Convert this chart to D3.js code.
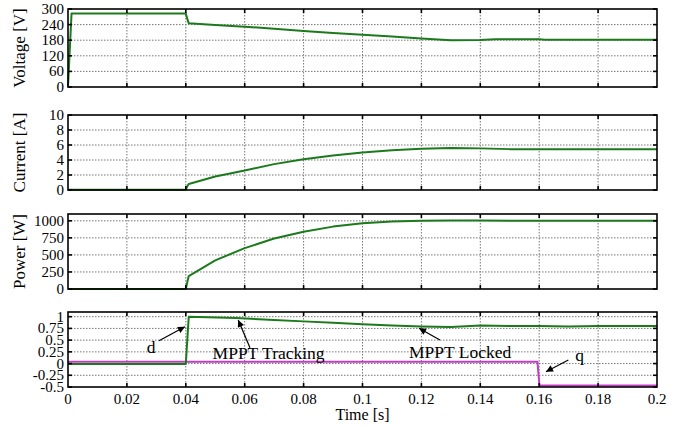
<!DOCTYPE html>
<html>
<head>
<meta charset="utf-8">
<style>
body { margin: 0; background: #fff; }
text { font-family: "Liberation Serif", "Times New Roman", serif; fill: #000; }
.grid { stroke: #777; stroke-width: 1; stroke-dasharray: 1.5,1.5; }
.frame { fill: none; stroke: #000; stroke-width: 1.6px; }
.tick { stroke: #000; stroke-width: 1.6px; }
.trace { fill: none; stroke-width: 2px; stroke-linejoin: round; }
</style>
</head>
<body>
<script src="https://cdn.jsdelivr.net/npm/d3@7"></script>
<script>

// time ticks
var timeTicks = [0, 0.02, 0.04, 0.06, 0.08, 0.1, 0.12, 0.14, 0.16, 0.18, 0.2];
var timeLabels = ["0", "0.02", "0.04", "0.06", "0.08", "0.1", "0.12", "0.14", "0.16", "0.18", "0.2"];

// voltage trace
var vTime = [0, 0.0012, 0.04, 0.0405, 0.041, 0.05, 0.06, 0.07, 0.08, 0.09, 0.1, 0.11, 0.12, 0.13, 0.14, 0.145, 0.16, 0.162, 0.18, 0.2];
var vVal  = [0, 283, 283, 262, 245, 238, 232, 224, 215, 208, 201, 194, 187, 180, 181, 184, 184, 182, 182, 182];

// current trace
var iTime = [0, 0.04, 0.0405, 0.041, 0.05, 0.06, 0.07, 0.08, 0.09, 0.1, 0.11, 0.12, 0.13, 0.14, 0.15, 0.16, 0.18, 0.2];
var iVal  = [0.05, 0.05, 0.5, 0.8, 1.8, 2.6, 3.45, 4.1, 4.6, 5.0, 5.3, 5.5, 5.6, 5.55, 5.45, 5.45, 5.45, 5.45];

// power trace
var pTime = [0, 0.04, 0.0405, 0.041, 0.05, 0.06, 0.07, 0.08, 0.09, 0.1, 0.11, 0.12, 0.13, 0.14, 0.15, 0.16, 0.18, 0.2];
var pVal  = [0, 0, 100, 190, 420, 600, 740, 840, 915, 965, 990, 1000, 1005, 1005, 1000, 1000, 1000, 1000];

// duty cycle d and signal q
var dTime = [0, 0.04, 0.0405, 0.041, 0.057, 0.07, 0.08, 0.09, 0.1, 0.11, 0.12, 0.13, 0.14, 0.15, 0.16, 0.17, 0.18, 0.19, 0.2];
var dVal  = [-0.01, -0.01, 0.5, 1.0, 0.97, 0.93, 0.9, 0.87, 0.84, 0.81, 0.79, 0.78, 0.81, 0.8, 0.8, 0.79, 0.8, 0.8, 0.8];
var qTime = [0, 0.1594, 0.1601, 0.2];
var qVal  = [0.04, 0.04, -0.47, -0.47];

var vTicks = [0, 60, 120, 180, 240, 300];
var iTicks = [0, 2, 4, 6, 8, 10];
var pTicks = [0, 250, 500, 750, 1000];
var sTicks = [-0.5, -0.25, 0, 0.25, 0.5, 0.75, 1];
var sLabels = ["-0.5", "-0.25", "0", "0.25", "0.5", "0.75", "1"];

var width = 684, height = 427;
var green = "#1c7a1c", magenta = "#c23cc8";

var svg = d3.select("body").append("svg")
    .attr("width", width)
    .attr("height", height);

svg.append("defs").append("marker")
    .attr("id", "arr")
    .attr("viewBox", "0 0 10 10")
    .attr("refX", 10).attr("refY", 5)
    .attr("markerWidth", 9).attr("markerHeight", 7)
    .attr("markerUnits", "userSpaceOnUse")
    .attr("orient", "auto")
  .append("path")
    .attr("d", "M0,0L10,5L0,10z")
    .attr("fill", "#000");

var x = d3.scaleLinear().domain([0, 0.2]).range([68, 657]);

var panels = [
  {title: "Voltage [V]", top: 9, bottom: 87, domain: [0, 300], ticks: vTicks, labels: vTicks.map(String),
   traces: [{t: vTime, v: vVal, c: green}]},
  {title: "Current [A]", top: 115, bottom: 190, domain: [0, 10], ticks: iTicks, labels: iTicks.map(String),
   traces: [{t: iTime, v: iVal, c: green}]},
  {title: "Power [W]", top: 214, bottom: 289, domain: [0, 1100], ticks: pTicks, labels: pTicks.map(String),
   traces: [{t: pTime, v: pVal, c: green}]},
  {title: null, top: 312, bottom: 387, domain: [-0.5, 1.1], ticks: sTicks, labels: sLabels,
   traces: [{t: qTime, v: qVal, c: magenta}, {t: dTime, v: dVal, c: green}]}
];

panels.forEach(function(p) {
  var y = d3.scaleLinear().domain(p.domain).range([p.bottom, p.top]);
  p.y = y;
  var g = svg.append("g");

  // grid
  g.selectAll(".gx").data(timeTicks.slice(1, -1)).enter().append("line")
      .attr("class", "grid")
      .attr("x1", x).attr("x2", x)
      .attr("y1", p.top).attr("y2", p.bottom);
  g.selectAll(".gy").data(p.ticks.filter(function(d) { return y(d) < p.bottom - 1 && y(d) > p.top + 1; }))
    .enter().append("line")
      .attr("class", "grid")
      .attr("x1", x(0)).attr("x2", x(0.2))
      .attr("y1", y).attr("y2", y);

  // traces
  p.traces.forEach(function(tr) {
    var pts = tr.t.map(function(t, i) { return [t, tr.v[i]]; });
    g.append("path")
        .datum(pts)
        .attr("class", "trace")
        .attr("stroke", tr.c)
        .attr("d", d3.line().x(function(d) { return x(d[0]); }).y(function(d) { return y(d[1]); }));
  });

  // inward ticks
  timeTicks.slice(1, -1).forEach(function(t) {
    g.append("line").attr("class", "tick")
        .attr("x1", x(t)).attr("x2", x(t)).attr("y1", p.bottom).attr("y2", p.bottom - 4);
    g.append("line").attr("class", "tick")
        .attr("x1", x(t)).attr("x2", x(t)).attr("y1", p.top).attr("y2", p.top + 4);
  });
  p.ticks.forEach(function(v) {
    g.append("line").attr("class", "tick")
        .attr("x1", x(0)).attr("x2", x(0) + 4).attr("y1", y(v)).attr("y2", y(v));
    g.append("line").attr("class", "tick")
        .attr("x1", x(0.2)).attr("x2", x(0.2) - 4).attr("y1", y(v)).attr("y2", y(v));
  });

  g.append("rect").attr("class", "frame")
      .attr("x", x(0)).attr("y", p.top)
      .attr("width", x(0.2) - x(0)).attr("height", p.bottom - p.top);

  // y tick labels
  g.selectAll(".yl").data(p.ticks).enter().append("text")
      .attr("x", x(0) - 4)
      .attr("y", function(d) { return y(d) + 5; })
      .attr("text-anchor", "end")
      .style("font-size", "15px")
      .text(function(d, i) { return p.labels[i]; });

  if (p.title) {
    svg.append("text")
        .attr("transform", "translate(25," + ((p.top + p.bottom) / 2) + ") rotate(-90)")
        .attr("text-anchor", "middle")
        .style("font-size", "17px")
        .text(p.title);
  }
});

// x tick labels (bottom panel only)
svg.selectAll(".xl").data(timeTicks).enter().append("text")
    .attr("x", x)
    .attr("y", 404)
    .attr("text-anchor", "middle")
    .style("font-size", "15px")
    .text(function(d, i) { return timeLabels[i]; });

svg.append("text")
    .attr("x", (x(0) + x(0.2)) / 2)
    .attr("y", 420)
    .attr("text-anchor", "middle")
    .style("font-size", "16px")
    .text("Time [s]");

// annotations in the bottom panel
var ys = panels[3].y;
var notes = [
  {text: "d", t: 0.0282, v: 0.226, anchor: "middle"},
  {text: "MPPT Tracking", t: 0.0491, v: 0.098, anchor: "start"},
  {text: "MPPT Locked", t: 0.1158, v: 0.113, anchor: "start"},
  {text: "q", t: 0.1737, v: 0.055, anchor: "middle"}
];
var arrows = [
  {t1: 0.0309, v1: 0.488, t2: 0.0397, v2: 0.787},
  {t1: 0.0618, v1: 0.339, t2: 0.0578, v2: 0.93},
  {t1: 0.1263, v1: 0.503, t2: 0.1192, v2: 0.753},
  {t1: 0.1699, v1: 0.077, t2: 0.1623, v2: -0.173}
];

svg.selectAll(".note").data(notes).enter().append("text")
    .attr("x", function(d) { return x(d.t); })
    .attr("y", function(d) { return ys(d.v); })
    .attr("text-anchor", function(d) { return d.anchor; })
    .style("font-size", "17.5px")
    .text(function(d) { return d.text; });

svg.selectAll(".arrow").data(arrows).enter().append("line")
    .attr("x1", function(d) { return x(d.t1); })
    .attr("y1", function(d) { return ys(d.v1); })
    .attr("x2", function(d) { return x(d.t2); })
    .attr("y2", function(d) { return ys(d.v2); })
    .attr("stroke", "#000")
    .attr("stroke-width", 1.2)
    .attr("marker-end", "url(#arr)");

</script>
</body>
</html>
